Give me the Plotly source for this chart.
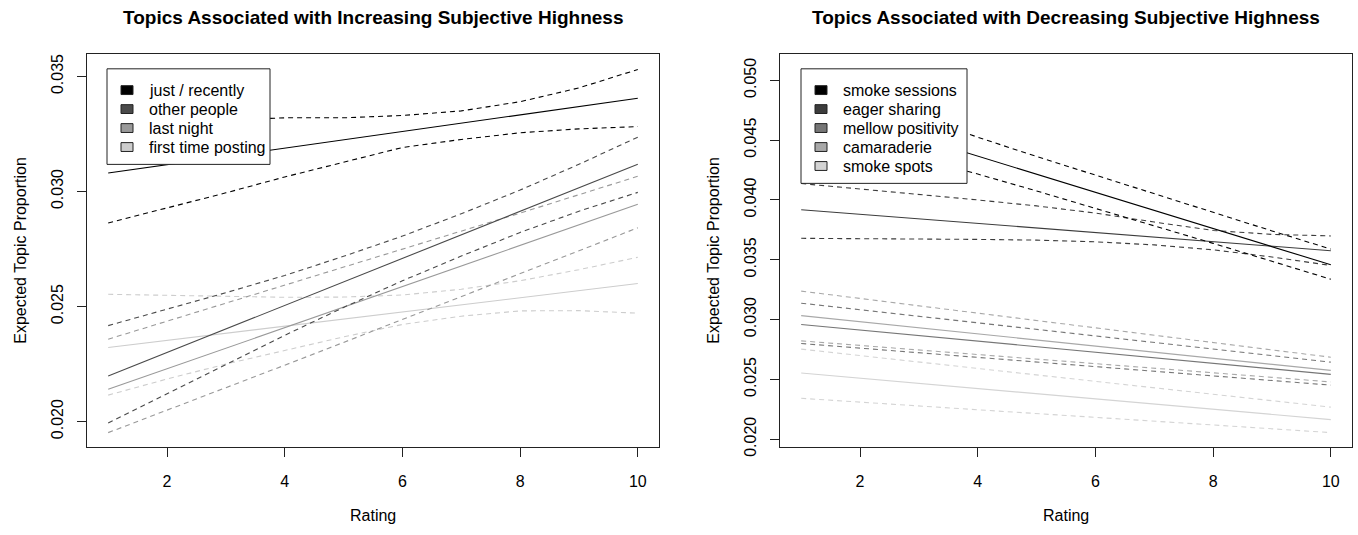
import plotly.graph_objects as go

rating = [1, 2, 3, 4, 5, 6, 7, 8, 9, 10]

# ---- Left panel: increasing topics ----
left_names = ["just / recently", "other people", "last night", "first time posting"]
left_colors = ["#000000", "#4a4a4a", "#999999", "#cdcdcd"]
jr_mean = [0.03080, 0.03116, 0.03152, 0.03188, 0.03224, 0.03261, 0.03297, 0.03333, 0.03369, 0.03405]
jr_up = [0.03300, 0.03310, 0.03310, 0.03320, 0.03320, 0.03330, 0.03350, 0.03390, 0.03450, 0.03530]
jr_lo = [0.02863, 0.02927, 0.02994, 0.03063, 0.03127, 0.03191, 0.03226, 0.03255, 0.03272, 0.03282]
op_mean = [0.02198, 0.02300, 0.02402, 0.02505, 0.02607, 0.02709, 0.02811, 0.02914, 0.03016, 0.03118]
op_up = [0.02417, 0.02488, 0.02560, 0.02635, 0.02718, 0.02806, 0.02903, 0.03006, 0.03118, 0.03236]
op_lo = [0.01994, 0.02122, 0.02248, 0.02375, 0.02496, 0.02612, 0.02719, 0.02822, 0.02914, 0.02996]
ln_mean = [0.02140, 0.02229, 0.02319, 0.02408, 0.02497, 0.02587, 0.02676, 0.02765, 0.02855, 0.02944]
ln_up = [0.02358, 0.02436, 0.02515, 0.02593, 0.02671, 0.02750, 0.02828, 0.02906, 0.02986, 0.03066]
ln_lo = [0.01952, 0.02049, 0.02147, 0.02245, 0.02344, 0.02444, 0.02543, 0.02643, 0.02743, 0.02842]
ft_mean = [0.02322, 0.02353, 0.02384, 0.02415, 0.02446, 0.02476, 0.02507, 0.02538, 0.02569, 0.02600]
ft_up = [0.02553, 0.02548, 0.02543, 0.02540, 0.02541, 0.02550, 0.02575, 0.02612, 0.02660, 0.02714]
ft_lo = [0.02115, 0.02185, 0.02250, 0.02308, 0.02368, 0.02422, 0.02458, 0.02481, 0.02482, 0.02471]

# ---- Right panel: decreasing topics ----
right_names = ["smoke sessions", "eager sharing", "mellow positivity", "camaraderie", "smoke spots"]
right_colors = ["#000000", "#3c3c3c", "#767676", "#a8a8a8", "#d4d4d4"]
ss_mean = [0.04820, 0.04669, 0.04518, 0.04366, 0.04215, 0.04064, 0.03912, 0.03761, 0.03609, 0.03458]
ss_up = [0.05070, 0.04879, 0.04698, 0.04524, 0.04363, 0.04206, 0.04049, 0.03895, 0.03741, 0.03589]
ss_lo = [0.04580, 0.04469, 0.04348, 0.04216, 0.04075, 0.03931, 0.03785, 0.03637, 0.03487, 0.03337]
es_mean = [0.03918, 0.03880, 0.03842, 0.03804, 0.03766, 0.03727, 0.03689, 0.03651, 0.03613, 0.03575]
es_up = [0.04137, 0.04093, 0.04047, 0.04000, 0.03950, 0.03890, 0.03815, 0.03745, 0.03712, 0.03699]
es_lo = [0.03679, 0.03677, 0.03674, 0.03670, 0.03664, 0.03650, 0.03624, 0.03583, 0.03523, 0.03452]
mp_mean = [0.02959, 0.02913, 0.02866, 0.02820, 0.02774, 0.02727, 0.02681, 0.02635, 0.02588, 0.02542]
mp_up = [0.03137, 0.03082, 0.03027, 0.02973, 0.02918, 0.02863, 0.02808, 0.02753, 0.02699, 0.02644]
mp_lo = [0.02800, 0.02761, 0.02723, 0.02684, 0.02645, 0.02607, 0.02568, 0.02529, 0.02491, 0.02452]
cm_mean = [0.03033, 0.02982, 0.02931, 0.02880, 0.02829, 0.02779, 0.02728, 0.02677, 0.02626, 0.02575]
cm_up = [0.03238, 0.03177, 0.03115, 0.03054, 0.02992, 0.02931, 0.02870, 0.02808, 0.02747, 0.02685]
cm_lo = [0.02822, 0.02784, 0.02746, 0.02708, 0.02670, 0.02631, 0.02593, 0.02555, 0.02517, 0.02479]
sp_mean = [0.02553, 0.02510, 0.02467, 0.02424, 0.02380, 0.02337, 0.02294, 0.02251, 0.02207, 0.02164]
sp_up = [0.02753, 0.02699, 0.02645, 0.02591, 0.02537, 0.02484, 0.02430, 0.02376, 0.02322, 0.02268]
sp_lo = [0.02342, 0.02310, 0.02278, 0.02246, 0.02214, 0.02183, 0.02151, 0.02119, 0.02087, 0.02055]

x_ticks = [2, 4, 6, 8, 10]
left_yticks = [0.020, 0.025, 0.030, 0.035]
right_yticks = [0.020, 0.025, 0.030, 0.035, 0.040, 0.045, 0.050]

left_series = [(jr_mean, jr_up, jr_lo), (op_mean, op_up, op_lo), (ln_mean, ln_up, ln_lo), (ft_mean, ft_up, ft_lo)]
right_series = [(ss_mean, ss_up, ss_lo), (es_mean, es_up, es_lo), (mp_mean, mp_up, mp_lo),
                (cm_mean, cm_up, cm_lo), (sp_mean, sp_up, sp_lo)]

FONT = "Liberation Sans, Arial, Helvetica, sans-serif"
W, H = 1358, 535
fig = go.Figure()


def add_panel(series, names, colors, xa, ya):
    # lightest first so darker lines sit on top
    for (m, u, l), c, n in reversed(list(zip(series, colors, names))):
        for vals, dash, part in ((u, "5px,4px", "upper"), (l, "5px,4px", "lower"), (m, "solid", "mean")):
            fig.add_trace(go.Scatter(x=rating, y=vals, mode="lines", xaxis=xa, yaxis=ya,
                                     name=f"{n} ({part})",
                                     line=dict(color=c, width=1.1, dash=dash),
                                     showlegend=False, hoverinfo="skip"))


add_panel(left_series, left_names, left_colors, "x", "y")
add_panel(right_series, right_names, right_colors, "x2", "y2")


def px(x):
    return x / W


def py(y):
    return 1 - y / H


shapes = []
annots = []


def add_legend(x0, y0, width, names, colors):
    row = 19.3
    h = row * len(names) + 20
    shapes.append(dict(type="rect", xref="paper", yref="paper", x0=px(x0), x1=px(x0 + width),
                       y0=py(y0 + h), y1=py(y0), line=dict(color="#222222", width=1),
                       fillcolor="white", layer="above"))
    for i, (n, c) in enumerate(zip(names, colors)):
        yc = y0 + 12 + row * (i + 0.5)
        shapes.append(dict(type="rect", xref="paper", yref="paper", x0=px(x0 + 14), x1=px(x0 + 26),
                           y0=py(yc + 4.5), y1=py(yc - 4.5), line=dict(color="#222222", width=1),
                           fillcolor=c, layer="above"))
        annots.append(dict(text=n, x=px(x0 + 40), y=py(yc), xref="paper", yref="paper", showarrow=False,
                           xanchor="left", yanchor="middle", font=dict(family=FONT, size=16, color="black")))


add_legend(107, 70, 163, left_names, left_colors)
add_legend(801, 70, 166, right_names, right_colors)

axis_common = dict(showline=True, mirror=True, linecolor="#222222", linewidth=1,
                   ticks="outside", ticklen=9, tickcolor="#222222", tickwidth=1,
                   showgrid=False, zeroline=False,
                   tickfont=dict(family=FONT, size=16, color="black"))

ytop, ybot = 55, 455
fig.update_layout(
    autosize=True, margin=dict(l=0, r=0, t=0, b=0, pad=0),
    plot_bgcolor="white", paper_bgcolor="white",
    font=dict(family=FONT, size=16, color="black"),
    showlegend=False,
    xaxis=dict(domain=[px(87), px(659)], range=[0.64, 10.36], tickvals=x_ticks, anchor="y",
               ticklabelstandoff=10, **axis_common),
    yaxis=dict(domain=[py(ybot), py(ytop)], range=[0.01888, 0.03597], tickvals=left_yticks,
               tickformat=".3f", tickangle=-90, anchor="x", ticklabelstandoff=8, **axis_common),
    xaxis2=dict(domain=[px(780), px(1352)], range=[0.64, 10.36], tickvals=x_ticks, anchor="y2",
                ticklabelstandoff=10, **axis_common),
    yaxis2=dict(domain=[py(ybot), py(ytop)], range=[0.01932, 0.05219], tickvals=right_yticks,
                tickformat=".3f", tickangle=-90, anchor="x2", ticklabelstandoff=8, **axis_common),
)

texts = [
    ("<b>Topics Associated with Increasing Subjective Highness</b>", 373, 18, 19, 0),
    ("<b>Topics Associated with Decreasing Subjective Highness</b>", 1066, 18, 19, 0),
    ("Rating", 373, 524, 16, 0),
    ("Rating", 1066, 524, 16, 0),
    ("Expected Topic Proportion", 21, 255, 16, -90),
    ("Expected Topic Proportion", 714, 255, 16, -90),
]
for t, x, y, s, ang in texts:
    annots.append(dict(text=t, x=px(x), y=py(y), xref="paper", yref="paper", showarrow=False,
                       xanchor="center", yanchor="middle", textangle=ang,
                       font=dict(family=FONT, size=s, color="black")))

fig.update_layout(shapes=shapes, annotations=annots)

fig.write_html("out.html", config={"displayModeBar": False, "responsive": True},
               default_width="100%", default_height="100%")

# make the figure fill the window exactly, with no page margin
with open("out.html", "r", encoding="utf-8") as f:
    html = f.read()
css = ("<style>html,body{margin:0;padding:0;width:100%;height:100%;overflow:hidden;}"
       "body>div{width:100%;height:100%;}</style>")
html = html.replace("<head>", "<head>" + css, 1)
with open("out.html", "w", encoding="utf-8") as f:
    f.write(html)
